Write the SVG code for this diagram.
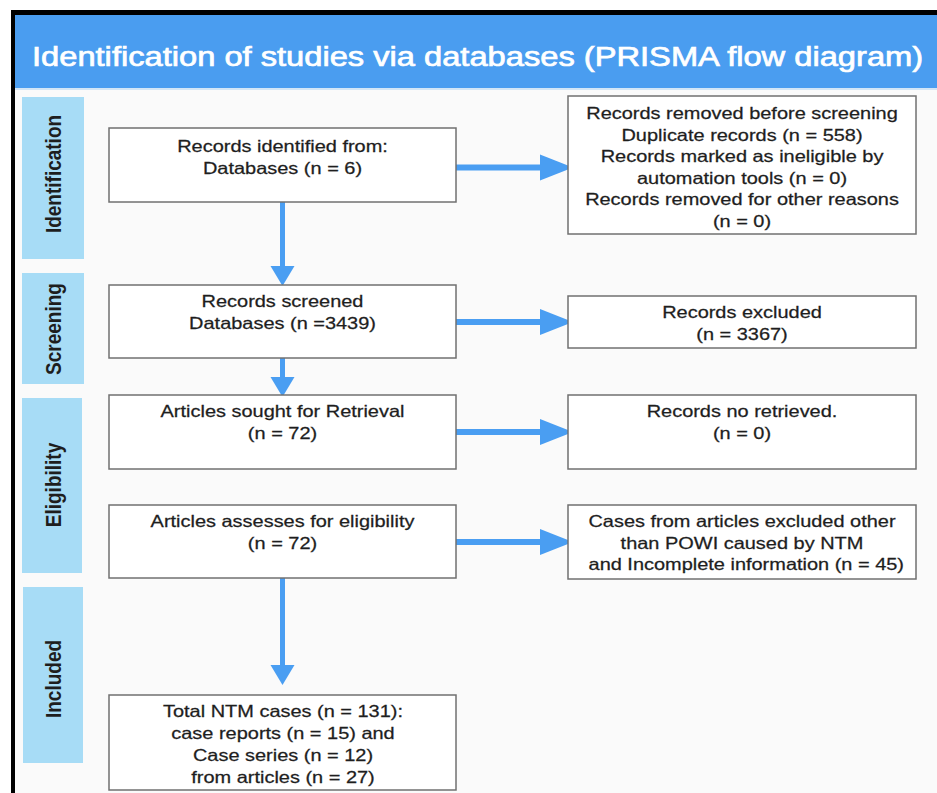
<svg xmlns="http://www.w3.org/2000/svg" width="937" height="793" viewBox="0 0 937 793">
  <style>
    .box { fill: #ffffff; stroke: #707070; stroke-width: 1.5; }
    .side { fill: #a7dcf6; }
    .t { font-family: "Liberation Sans", Arial, sans-serif; font-size: 16.5px; fill: #1e1e1e; stroke: #1e1e1e; stroke-width: 0.25; text-anchor: middle; }
    .lbl { font-family: "Liberation Sans", Arial, sans-serif; font-size: 19px; font-weight: bold; fill: #1e1e1e; text-anchor: middle; }
    .title { font-family: "Liberation Sans", Arial, sans-serif; font-size: 27px; fill: #ffffff; stroke: #ffffff; stroke-width: 0.7; }
    .h { stroke: #4a9ef2; stroke-width: 6; fill: none; marker-end: url(#hHead); }
    .v { stroke: #4a9ef2; stroke-width: 5; fill: none; marker-end: url(#vHead); }
  </style>
  <defs>
    <marker id="hHead" markerUnits="userSpaceOnUse" markerWidth="34" markerHeight="27" refX="0" refY="13" orient="auto" overflow="visible">
      <path d="M0,0 L33,13 L0,26 Z" fill="#4a9ef2"/>
    </marker>
    <marker id="vHead" markerUnits="userSpaceOnUse" markerWidth="21" markerHeight="25" refX="0" refY="12" orient="auto" overflow="visible">
      <path d="M0,0 L20,12 L0,24 Z" fill="#4a9ef2"/>
    </marker>
  </defs>

  <!-- frame and header -->
  <rect x="0" y="0" width="937" height="793" fill="#ffffff"/>
  <rect x="11" y="10" width="926" height="783" fill="#000000"/>
  <rect x="15" y="15" width="922" height="778" fill="#fafafa"/>
  <g id="header">
    <rect x="15" y="15" width="922" height="73" fill="#4a9df0"/>
    <rect x="15" y="88" width="922" height="2" fill="#d2e6f7"/>
    <text class="title" transform="translate(32 66) scale(1.21 1)" x="0" y="0">Identification of studies via databases (PRISMA flow diagram)</text>
  </g>

  <!-- side labels -->
  <g id="side-identification">
    <rect class="side" x="22" y="97" width="62" height="162"/>
    <text class="lbl" transform="translate(61 174) rotate(-90) scale(1 1.21)" x="0" y="0">Identification</text>
  </g>
  <g id="side-screening">
    <rect class="side" x="22" y="273" width="62" height="111"/>
    <text class="lbl" transform="translate(61 329) rotate(-90) scale(1 1.21)" x="0" y="0">Screening</text>
  </g>
  <g id="side-eligibility">
    <rect class="side" x="22" y="398" width="60" height="175"/>
    <text class="lbl" transform="translate(61 485) rotate(-90) scale(1 1.21)" x="0" y="0">Eligibility</text>
  </g>
  <g id="side-included">
    <rect class="side" x="23" y="587" width="60" height="176"/>
    <text class="lbl" transform="translate(61 679) rotate(-90) scale(1 1.21)" x="0" y="0">Included</text>
  </g>

  <!-- connectors -->
  <g id="connectors">
    <line class="h" x1="456" y1="167.5" x2="540" y2="167.5"/>
    <line class="h" x1="456" y1="322" x2="540" y2="322"/>
    <line class="h" x1="456" y1="432" x2="540" y2="432"/>
    <line class="h" x1="456" y1="542" x2="540" y2="542"/>
    <line class="v" x1="282.5" y1="202" x2="282.5" y2="266"/>
    <line class="v" x1="282.5" y1="358" x2="282.5" y2="377"/>
    <line class="v" x1="282.5" y1="578" x2="282.5" y2="665"/>
  </g>

  <!-- left column -->
  <g id="records-identified">
    <rect class="box" x="109" y="128" width="347" height="74"/>
    <text class="t" transform="translate(282.5 0) scale(1.21 1)"><tspan x="0" y="152">Records identified from:</tspan><tspan x="0" y="174">Databases (n = 6)</tspan></text>
  </g>
  <g id="records-screened">
    <rect class="box" x="109" y="285" width="347" height="73"/>
    <text class="t" transform="translate(282.5 0) scale(1.21 1)"><tspan x="0" y="307">Records screened</tspan><tspan x="0" y="329">Databases (n =3439)</tspan></text>
  </g>
  <g id="articles-sought">
    <rect class="box" x="109" y="395" width="347" height="74"/>
    <text class="t" transform="translate(282.5 0) scale(1.21 1)"><tspan x="0" y="417">Articles sought for Retrieval</tspan><tspan x="0" y="439">(n = 72)</tspan></text>
  </g>
  <g id="articles-assessed">
    <rect class="box" x="109" y="505" width="347" height="73"/>
    <text class="t" transform="translate(282.5 0) scale(1.21 1)"><tspan x="0" y="527">Articles assesses for eligibility</tspan><tspan x="0" y="549">(n = 72)</tspan></text>
  </g>
  <g id="total-included">
    <rect class="box" x="109" y="695" width="347" height="95"/>
    <text class="t" transform="translate(283 0) scale(1.21 1)"><tspan x="0" y="717">Total NTM cases (n = 131):</tspan><tspan x="0" y="739">case reports (n = 15) and</tspan><tspan x="0" y="761">Case series (n = 12)</tspan><tspan x="0" y="783">from articles (n = 27)</tspan></text>
  </g>

  <!-- right column -->
  <g id="records-removed">
    <rect class="box" x="568" y="96" width="348" height="138"/>
    <text class="t" transform="translate(742 0) scale(1.21 1)"><tspan x="0" y="119">Records removed before screening</tspan><tspan x="0" y="141">Duplicate records (n = 558)</tspan><tspan x="0" y="162">Records marked as ineligible by</tspan><tspan x="0" y="184">automation tools (n = 0)</tspan><tspan x="0" y="205">Records removed for other reasons</tspan><tspan x="0" y="227">(n = 0)</tspan></text>
  </g>
  <g id="records-excluded">
    <rect class="box" x="568" y="296" width="348" height="52"/>
    <text class="t" transform="translate(742 0) scale(1.21 1)"><tspan x="0" y="318">Records excluded</tspan><tspan x="0" y="340">(n = 3367)</tspan></text>
  </g>
  <g id="records-not-retrieved">
    <rect class="box" x="568" y="395" width="348" height="74"/>
    <text class="t" transform="translate(742 0) scale(1.21 1)"><tspan x="0" y="417">Records no retrieved.</tspan><tspan x="0" y="439">(n = 0)</tspan></text>
  </g>
  <g id="cases-excluded">
    <rect class="box" x="568" y="505" width="348" height="74"/>
    <text class="t" transform="translate(742 0) scale(1.21 1)"><tspan x="0" y="527">Cases from articles excluded other</tspan><tspan x="0" y="549">than POWI caused by NTM</tspan><tspan x="3.5" y="570">and Incomplete information (n = 45)</tspan></text>
  </g>
</svg>
